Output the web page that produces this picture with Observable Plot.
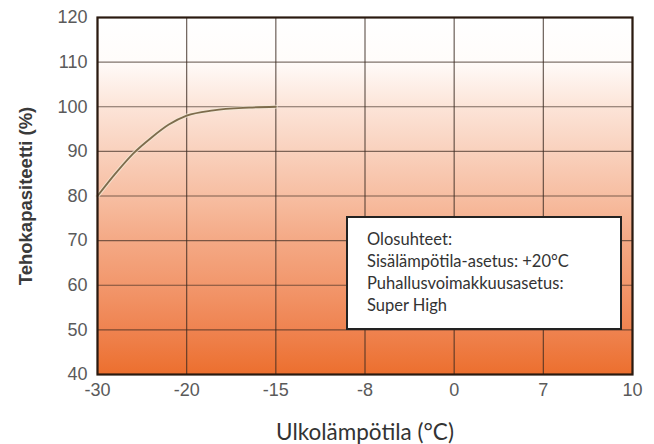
<!DOCTYPE html>
<html>
<head>
<meta charset="utf-8">
<script src="https://cdn.jsdelivr.net/npm/d3@7"></script>
<script src="https://cdn.jsdelivr.net/npm/@observablehq/plot@0.6"></script>
<style>
  html, body { margin: 0; padding: 0; background: #fff; }
  #wrap { position: relative; width: 654px; height: 444px; }
  #legend {
    position: absolute; left: 346px; top: 216px; width: 272px; height: 110px;
    border: 2.5px solid #222; background: #fff;
    font-family: Lato, "Open Sans", sans-serif; font-size: 16.5px; color: #333;
    box-sizing: content-box; padding: 0;
  }
  #legend div { position: absolute; left: 19px; line-height: 20px; white-space: nowrap; }
</style>
</head>
<body>
<div id="wrap"></div>
<script>
// Category ticks on the x axis (equally spaced)
const xTicks = [-30, -20, -15, -8, 0, 7, 10];
const yTicks = [40, 50, 60, 70, 80, 90, 100, 110, 120];
// Capacity curve: outdoor temperature (°C) vs capacity (%)
const temps = [-30, -28, -26, -24, -22, -20, -18.5, -16.5, -15];
const capacity = [80, 85, 89.5, 93, 96, 98, 99.2, 99.8, 100];
const legendLines = ["Olosuhteet:", "Sisälämpötila-asetus: +20°C", "Puhallusvoimakkuusasetus:", "Super High"];

const data = temps.map((t, i) => ({t, v: capacity[i]}));

const defs = () => {
  const ns = "http://www.w3.org/2000/svg";
  const d = document.createElementNS(ns, "defs");
  d.innerHTML = `<linearGradient id="bg" x1="0" y1="0" x2="0" y2="1">
    <stop offset="0" stop-color="#ffffff"/>
    <stop offset="0.12" stop-color="#fffcfa"/>
    <stop offset="0.25" stop-color="#fce4d8"/>
    <stop offset="0.375" stop-color="#f9d1bd"/>
    <stop offset="0.5" stop-color="#f7bea2"/>
    <stop offset="0.625" stop-color="#f4a985"/>
    <stop offset="0.75" stop-color="#f2976c"/>
    <stop offset="0.875" stop-color="#ef8350"/>
    <stop offset="1" stop-color="#ec6f2e"/>
  </linearGradient>`;
  return d;
};

const chart = Plot.plot({
  width: 654,
  height: 444,
  marginLeft: 97,
  marginRight: 22,
  marginTop: 17,
  marginBottom: 70,
  style: {fontFamily: "Arial, 'Liberation Sans', sans-serif", background: "#fff"},
  x: {type: "linear", domain: xTicks},
  y: {domain: [40, 120]},
  marks: [
    defs,
    Plot.frame({fill: "url(#bg)"}),
    Plot.gridX(xTicks, {stroke: "#3a2a20", strokeOpacity: 0.75, strokeWidth: 1.2}),
    Plot.gridY(yTicks, {stroke: "#3a2a20", strokeOpacity: 0.65, strokeWidth: 1.2}),
    Plot.line(data, {x: "t", y: "v", curve: "monotone-x", stroke: "#f3ead8", strokeWidth: 4, strokeOpacity: 0.7}),
    Plot.line(data, {x: "t", y: "v", curve: "monotone-x", stroke: "#7d6c4c", strokeWidth: 1.8}),
    Plot.frame({stroke: "#2a1a10", strokeWidth: 2.2}),
    Plot.axisX(xTicks, {
      tickSize: 0, tickPadding: 9, fontSize: 18, fill: "#5a5a5a",
      tickFormat: d => String(d),
      label: "Ulkolämpötila (°C)", labelAnchor: "center", labelOffset: 65, labelArrow: "none"
    }),
    Plot.axisY(yTicks, {
      tickSize: 0, tickPadding: 10, fontSize: 18, fill: "#5a5a5a",
      tickFormat: d => String(d),
      label: null
    }),
    Plot.text(["Tehokapasiteetti (%)"], {
      frameAnchor: "left", dx: -71, rotate: -90, textAnchor: "middle",
      fontSize: 18.5, fontWeight: "bold", fill: "#3a3a3a"
    })
  ]
});

// style axis label
chart.querySelectorAll('[aria-label="x-axis label"] text').forEach(t => {
  t.setAttribute("font-size", "22.5");
  t.setAttribute("fill", "#333");
  t.style.fontFamily = "Lato, 'Open Sans', sans-serif";
});

const wrap = document.getElementById("wrap");
wrap.appendChild(chart);

const legend = document.createElement("div");
legend.id = "legend";
legendLines.forEach((s, i) => {
  const line = document.createElement("div");
  line.textContent = s;
  line.style.top = (10.5 + i * 22) + "px";
  legend.appendChild(line);
});
wrap.appendChild(legend);
</script>
</body>
</html>
